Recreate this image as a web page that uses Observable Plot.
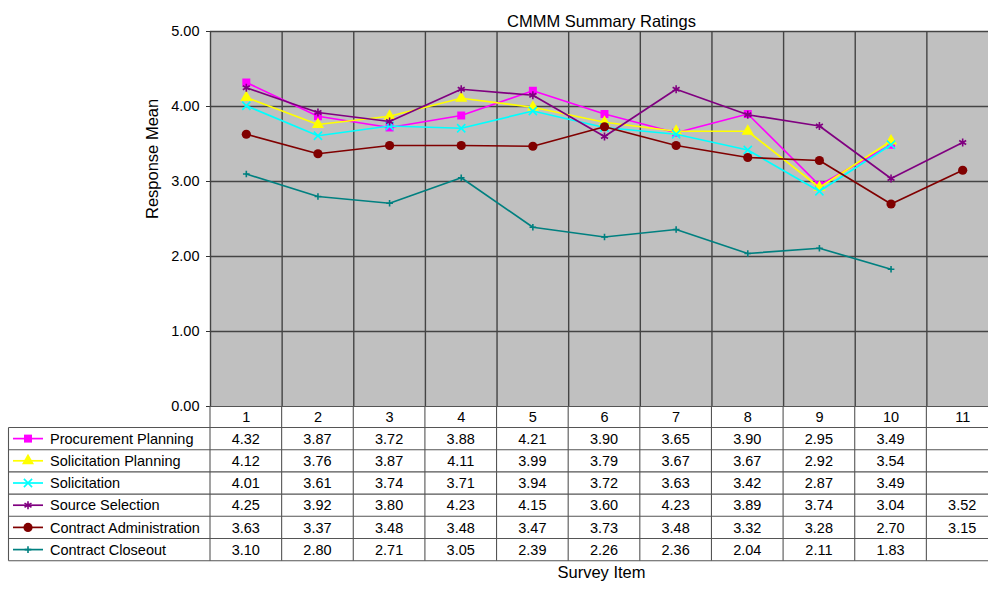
<!DOCTYPE html>
<html><head><meta charset="utf-8">
<script src="https://cdn.jsdelivr.net/npm/d3@7"></script>
<script src="https://cdn.jsdelivr.net/npm/@observablehq/plot@0.6"></script>
<style>
html,body{margin:0;padding:0;background:#fff;overflow:hidden;}
#wrap{position:relative;width:998px;height:589px;}
#wrap svg{position:absolute;left:0;top:0;}
</style></head><body><div id="wrap"></div>
<script>
const items = [1, 2, 3, 4, 5, 6, 7, 8, 9, 10, 11];
const seriesNames = ["Procurement Planning", "Solicitation Planning", "Solicitation", "Source Selection", "Contract Administration", "Contract Closeout"];
const seriesColors = ["#ff00ff", "#ffff00", "#00ffff", "#800080", "#800000", "#008080"];
const seriesSymbols = ["square", "triangle", "times", "asterisk", "circle", "plus"];
const procurementPlanning = [4.32, 3.87, 3.72, 3.88, 4.21, 3.90, 3.65, 3.90, 2.95, 3.49, null];
const solicitationPlanning = [4.12, 3.76, 3.87, 4.11, 3.99, 3.79, 3.67, 3.67, 2.92, 3.54, null];
const solicitation = [4.01, 3.61, 3.74, 3.71, 3.94, 3.72, 3.63, 3.42, 2.87, 3.49, null];
const sourceSelection = [4.25, 3.92, 3.80, 4.23, 4.15, 3.60, 4.23, 3.89, 3.74, 3.04, 3.52];
const contractAdministration = [3.63, 3.37, 3.48, 3.48, 3.47, 3.73, 3.48, 3.32, 3.28, 2.70, 3.15];
const contractCloseout = [3.10, 2.80, 2.71, 3.05, 2.39, 2.26, 2.36, 2.04, 2.11, 1.83, null];
const yTicks = [0, 1, 2, 3, 4, 5];
const title = "CMMM Summary Ratings";
const yLabel = "Response Mean";
const xLabel = "Survey Item";

const seriesValues = [procurementPlanning, solicitationPlanning, solicitation, sourceSelection, contractAdministration, contractCloseout];
const rows = [];
seriesNames.forEach((s, k) => seriesValues[k].forEach((v, i) => {
  if (v != null) rows.push({series: s, item: items[i], value: v});
}));
const bounds = items.map(i => i - 0.5).concat([items[items.length - 1] + 0.5]);
const strokeSymbols = new Set(["times", "asterisk", "plus"]);
const symbolR = {square: 4.5, triangle: 4.5, times: 3.8, asterisk: 3.8, circle: 4.6, plus: 2.3};
const font = "'Liberation Sans', Arial, Helvetica, sans-serif";
const gridColor = "#444";

const seriesMarks = seriesNames.flatMap((s, k) => {
  const d = rows.filter(r => r.series === s);
  const sym = seriesSymbols[k];
  const isStroke = strokeSymbols.has(sym);
  return [
    Plot.line(d, {x: "item", y: "value", stroke: "series", strokeWidth: 1.7}),
    Plot.dot(d, {x: "item", y: "value", symbol: "series", r: symbolR[sym],
      fill: isStroke ? "none" : "series", stroke: isStroke ? "series" : "none", strokeWidth: 1.6})
  ];
});

const chart = Plot.plot({
  width: 998, height: 589,
  marginLeft: 210, marginRight: 0, marginTop: 31, marginBottom: 183,
  style: {fontFamily: font, fontSize: "14.5px", color: "#000", background: "transparent", overflow: "visible"},
  x: {domain: [bounds[0], bounds[bounds.length - 1]]},
  y: {domain: [0, 5]},
  color: {domain: seriesNames, range: seriesColors},
  symbol: {domain: seriesNames, range: seriesSymbols},
  marks: [
    Plot.frame({fill: "#c0c0c0", stroke: null}),
    Plot.gridY({ticks: yTicks.filter(t => t > 0), stroke: gridColor, strokeOpacity: 1, strokeWidth: 1.4}),
    Plot.gridX({ticks: bounds, stroke: gridColor, strokeOpacity: 1, strokeWidth: 1.4}),
    Plot.ruleY([0], {stroke: "#555"}),
    ...seriesMarks,
    Plot.axisY({ticks: yTicks, tickFormat: d => d.toFixed(2), tickSize: 4, tickPadding: 7, label: null, stroke: "#333"}),
    Plot.axisX({ticks: items, tickSize: 0, tickPadding: 5, label: null}),
    Plot.text([title], {frameAnchor: "top", dy: -16, dx: -3, fontSize: 16.5, text: d => d}),
    Plot.text([yLabel], {frameAnchor: "left", dx: -58, rotate: -90, fontSize: 16.5, text: d => d}),
    Plot.text([xLabel], {frameAnchor: "bottom", dy: 171, dx: -3, fontSize: 16.5, text: d => d})
  ]
});
const wrap = document.getElementById("wrap");
wrap.appendChild(chart);

// data table below the chart, aligned on Plot's x scale
const xs = chart.scale("x");
const xp = v => xs.apply(v);
const headerTop = 406, rowTop = 427.5, rowH = 22.2, tableLeft = 8.5;
const tableRight = xp(bounds[bounds.length - 1]);
const tableBottom = rowTop + seriesNames.length * rowH;
const tbl = d3.select(wrap).append("svg").attr("width", 998).attr("height", 589)
  .style("font-family", font).style("font-size", "14.5px").style("pointer-events", "none");
const lineColor = "#555";
for (let k = 0; k <= seriesNames.length; k++) {
  const y = rowTop + k * rowH;
  tbl.append("line").attr("x1", tableLeft).attr("x2", tableRight).attr("y1", y).attr("y2", y)
    .attr("stroke", lineColor).attr("stroke-width", 1.1);
}
bounds.forEach(b => {
  tbl.append("line").attr("x1", xp(b)).attr("x2", xp(b)).attr("y1", headerTop).attr("y2", tableBottom)
    .attr("stroke", lineColor).attr("stroke-width", 1.1);
});
tbl.append("line").attr("x1", tableLeft).attr("x2", tableLeft).attr("y1", rowTop).attr("y2", tableBottom)
  .attr("stroke", lineColor).attr("stroke-width", 1.1);

const d3Sym = {square: d3.symbolSquare, triangle: d3.symbolTriangle, times: d3.symbolTimes,
  asterisk: d3.symbolAsterisk, circle: d3.symbolCircle, plus: d3.symbolPlus};
seriesNames.forEach((s, k) => {
  const cy = rowTop + k * rowH + rowH / 2;
  const base = cy + 5.2;
  const col = seriesColors[k], sym = seriesSymbols[k];
  const isStroke = strokeSymbols.has(sym);
  tbl.append("line").attr("x1", 13).attr("x2", 43).attr("y1", cy).attr("y2", cy)
    .attr("stroke", col).attr("stroke-width", 1.7);
  const r = symbolR[sym];
  tbl.append("path").attr("transform", `translate(28,${cy})`)
    .attr("d", d3.symbol(d3Sym[sym], r * r * Math.PI)())
    .attr("fill", isStroke ? "none" : col).attr("stroke", isStroke ? col : "none").attr("stroke-width", 1.6);
  tbl.append("text").attr("x", 50).attr("y", base).text(s);
  seriesValues[k].forEach((v, i) => {
    if (v == null) return;
    tbl.append("text").attr("x", xp(items[i])).attr("y", base).attr("text-anchor", "middle").text(v.toFixed(2));
  });
});
</script></body></html>
